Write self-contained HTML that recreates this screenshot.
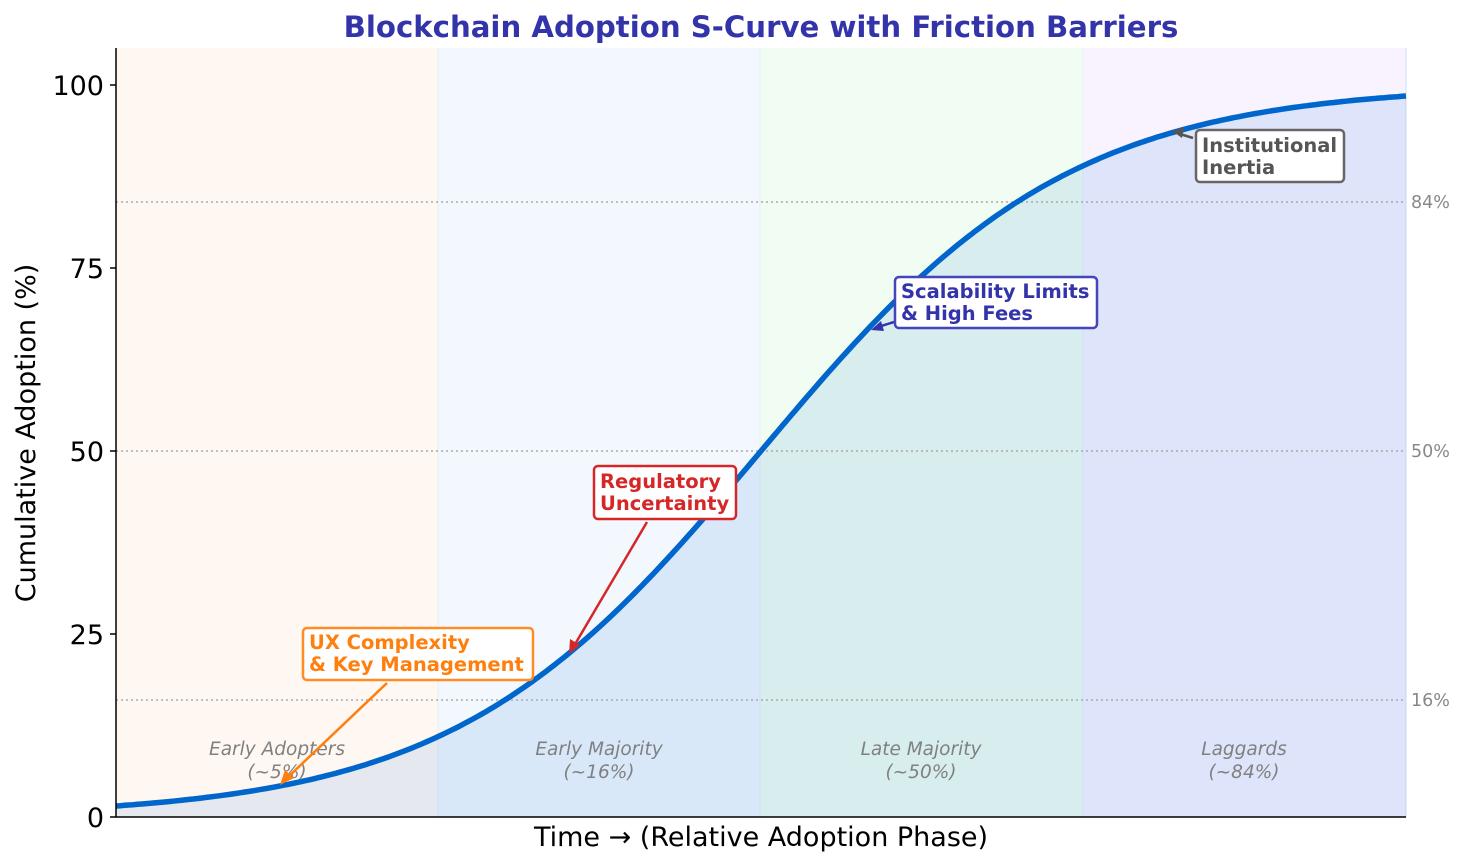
<!DOCTYPE html><html><head><meta charset="utf-8"><style>body{margin:0;background:#fff}svg{display:block;font-family:"DejaVu Sans","Liberation Sans",sans-serif}</style></head><body>
<svg id="s" width="1467" height="866" viewBox="0 0 1467 866">
<rect x="116" y="48" width="322" height="769" fill="#fff8f2"/>
<rect x="438" y="48" width="322" height="769" fill="#f2f8fe"/>
<rect x="760" y="48" width="323" height="769" fill="#f1fdf2"/>
<rect x="1083" y="48" width="323" height="769" fill="#f8f3fe"/>
<g stroke="#e8eef8" stroke-width="1"><line x1="438" y1="48" x2="438" y2="817"/><line x1="760" y1="48" x2="760" y2="817"/><line x1="1083" y1="48" x2="1083" y2="817"/><line x1="1406" y1="48" x2="1406" y2="817" stroke="#cfdcf5"/></g>
<path id="fill" fill="#0066cc" fill-opacity="0.1"/>
<g stroke="#aaa" stroke-width="1.5" stroke-dasharray="2,3"><line x1="116" y1="202" x2="1406" y2="202"/><line x1="116" y1="451" x2="1406" y2="451"/><line x1="116" y1="700" x2="1406" y2="700"/></g>
<g fill="#888" font-size="17.5"><text x="1411" y="208">84%</text><text x="1411" y="457">50%</text><text x="1411" y="706">16%</text></g>
<g fill="#808080" font-size="18.5" font-style="italic" text-anchor="middle"><text x="277" y="755">Early Adopters</text><text x="277" y="778">(~5%)</text><text x="599" y="755">Early Majority</text><text x="599" y="778">(~16%)</text><text x="921" y="755">Late Majority</text><text x="921" y="778">(~50%)</text><text x="1244" y="755">Laggards</text><text x="1244" y="778">(~84%)</text></g>
<path id="curve" fill="none" stroke="#0066cc" stroke-width="5.5"/>
<g stroke="#000" stroke-width="1.5"><line x1="116" y1="48" x2="116" y2="817"/><line x1="116" y1="817" x2="1406" y2="817"/>
<line x1="110" y1="85" x2="116" y2="85"/><line x1="110" y1="268" x2="116" y2="268"/><line x1="110" y1="451" x2="116" y2="451"/><line x1="110" y1="634" x2="116" y2="634"/><line x1="110" y1="817" x2="116" y2="817"/></g>
<g font-size="27" text-anchor="end" fill="#000"><text x="104" y="95">100</text><text x="104" y="278">75</text><text x="104" y="461">50</text><text x="104" y="644">25</text><text x="104" y="827">0</text></g>
<text x="761" y="846" font-size="27" text-anchor="middle">Time →  (Relative Adoption Phase)</text>
<text transform="translate(35,433) rotate(-90)" font-size="27" text-anchor="middle">Cumulative Adoption (%)</text>
<text x="761" y="37" font-size="29.2" font-weight="bold" fill="#3333aa" text-anchor="middle">Blockchain Adoption S-Curve with Friction Barriers</text>
<g font-size="19.5" font-weight="bold">
<line x1="387" y1="683" x2="287" y2="778" stroke="#ff7f0e" stroke-width="2.5"/><path d="M280 785l5-15 9 8z" fill="#ff7f0e"/>
<rect x="303" y="628" width="230" height="52" rx="4" fill="#fff" stroke="#ff8c24" stroke-width="2.5"/>
<text x="309" y="649" fill="#ff7f0e">UX Complexity</text><text x="309" y="671" fill="#ff7f0e">&amp; Key Management</text>
<line x1="647" y1="522" x2="574" y2="646" stroke="#d62728" stroke-width="2.5"/><path d="M569 654l1-15 10 6z" fill="#d62728"/>
<rect x="594" y="466" width="142" height="53" rx="4" fill="#fff" stroke="#d62728" stroke-width="2.5"/>
<text x="600" y="488" fill="#d62728">Regulatory</text><text x="600" y="510" fill="#d62728">Uncertainty</text>
<line x1="894" y1="322" x2="878" y2="327" stroke="#3333aa" stroke-width="2.5"/><path d="M871 330l10-9 3 10z" fill="#3333aa"/>
<rect x="895" y="277" width="202" height="51" rx="4" fill="#fff" stroke="#4444bb" stroke-width="2.5"/>
<text x="901" y="298" fill="#3333aa">Scalability Limits</text><text x="901" y="320" fill="#3333aa">&amp; High Fees</text>
<line x1="1193" y1="138" x2="1180" y2="134" stroke="#555" stroke-width="2.5"/><path d="M1172 131l12-4-2 11z" fill="#555"/>
<rect x="1196" y="130" width="148" height="52" rx="4" fill="#fff" stroke="#666" stroke-width="2.5"/>
<text x="1202" y="152" fill="#555">Institutional</text><text x="1202" y="174" fill="#555">Inertia</text>
</g>
</svg>
<script>
var d="",n=300;for(var i=0;i<=n;i++){var t=4*i/n,y=100/(1+Math.exp(-2.09*(t-2)));var px=116+1290*i/n,py=817-7.32*y;d+=(i?"L":"M")+px.toFixed(1)+" "+py.toFixed(1);}
document.getElementById("curve").setAttribute("d",d);document.getElementById("fill").setAttribute("d",d+"L1406 817L116 817Z");
</script>
</body></html>
